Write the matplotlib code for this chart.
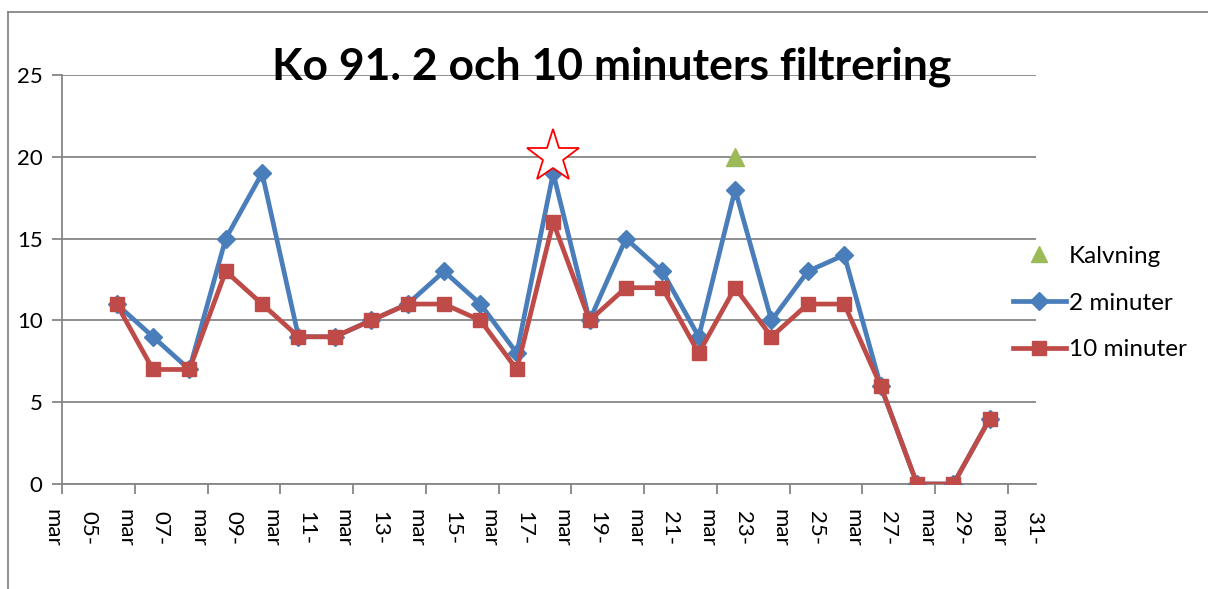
import matplotlib
matplotlib.use('Agg')
import matplotlib.pyplot as plt
from matplotlib.lines import Line2D

plt.rcParams['font.family'] = ['Lato', 'DejaVu Sans']

# data: days in march
days = list(range(6, 31))
two_min = [11, 9, 7, 15, 19, 9, 9, 10, 11, 13, 11, 8, 19, 10, 15, 13, 9, 18, 10, 13, 14, 6, 0, 0, 4]
ten_min = [11, 7, 7, 13, 11, 9, 9, 10, 11, 11, 10, 7, 16, 10, 12, 12, 8, 12, 9, 11, 11, 6, 0, 0, 4]
kalvning_day = [23]
kalvning_val = [20]
star_day = [18]
star_val = [20]
label_days = list(range(5, 32, 2))
tick_labels = ['%02d-\nmar' % d for d in label_days]

blue = '#4A7EBB'
red = '#BE4B48'
green = '#9BBB59'
grid = '#868686'

fig = plt.figure(figsize=(12.08, 5.89), dpi=100)
ax = fig.add_axes([62 / 1208, 1 - 484 / 589, (1036 - 62) / 1208, (484 - 75) / 589])

ax.plot(days, two_min, color=blue, lw=3.4, marker='D', ms=9, mec=blue, mfc=blue, zorder=3)
ax.plot(days, ten_min, color=red, lw=3.4, marker='s', ms=10, mec=red, mfc=red, zorder=4)
ax.plot(kalvning_day, kalvning_val, ls='none', marker='^', ms=13, color=green, zorder=5)
ax.plot(star_day, star_val, ls='none', marker='*', ms=40, mfc='white', mec='#FF0000', mew=1.3, zorder=5)

ax.set_ylim(0, 25)
ax.set_yticks(range(0, 26, 5))
ax.set_xlim(4.5, 31.27)
ticks = [d - 0.5 for d in label_days]
ax.set_xticks(ticks)
ax.set_xticklabels([])
# rotated date labels, a bit right of each tick like the original
for t, lab in zip(ticks, tick_labels):
    ax.annotate(lab, xy=(t, 0), xycoords=('data', 'axes fraction'), xytext=(6, -18),
                textcoords='offset points', rotation=-90, ha='center', va='top',
                fontsize=16, linespacing=1.95, annotation_clip=False)

ax.yaxis.grid(True, color=grid, lw=1.3)
ax.set_axisbelow(True)
for s in ['top', 'right']:
    ax.spines[s].set_visible(False)
for s in ['left', 'bottom']:
    ax.spines[s].set_color(grid)
    ax.spines[s].set_linewidth(1.3)
ax.tick_params(axis='both', colors=grid, length=7, width=1.3, labelsize=16, labelcolor='black')
ax.tick_params(axis='y', pad=7)

fig.text(612 / 1208, 1 - 80 / 589, 'Ko 91. 2 och 10 minuters filtrering', ha='center', va='baseline',
         fontsize=32, fontweight='bold')

handles = [
    Line2D([], [], ls='none', marker='^', ms=12, color=green),
    Line2D([], [], color=blue, lw=3.4, marker='D', ms=9),
    Line2D([], [], color=red, lw=3.4, marker='s', ms=10),
]
fig.legend(handles, ['Kalvning', '2 minuter', '10 minuter'], loc='center left',
           bbox_to_anchor=(1003 / 1208, 1 - 303 / 589), frameon=False, fontsize=17.5,
           handlelength=2.2, handletextpad=0.1, labelspacing=1.05, borderaxespad=0)

# outer chart frame
fig.add_artist(Line2D([8 / 1208, 8 / 1208], [0, 1 - 12 / 589], color=grid, lw=1.3, transform=fig.transFigure))
fig.add_artist(Line2D([8 / 1208, 1], [1 - 12 / 589, 1 - 12 / 589], color=grid, lw=1.3, transform=fig.transFigure))

fig.savefig('out.png', dpi=100)
